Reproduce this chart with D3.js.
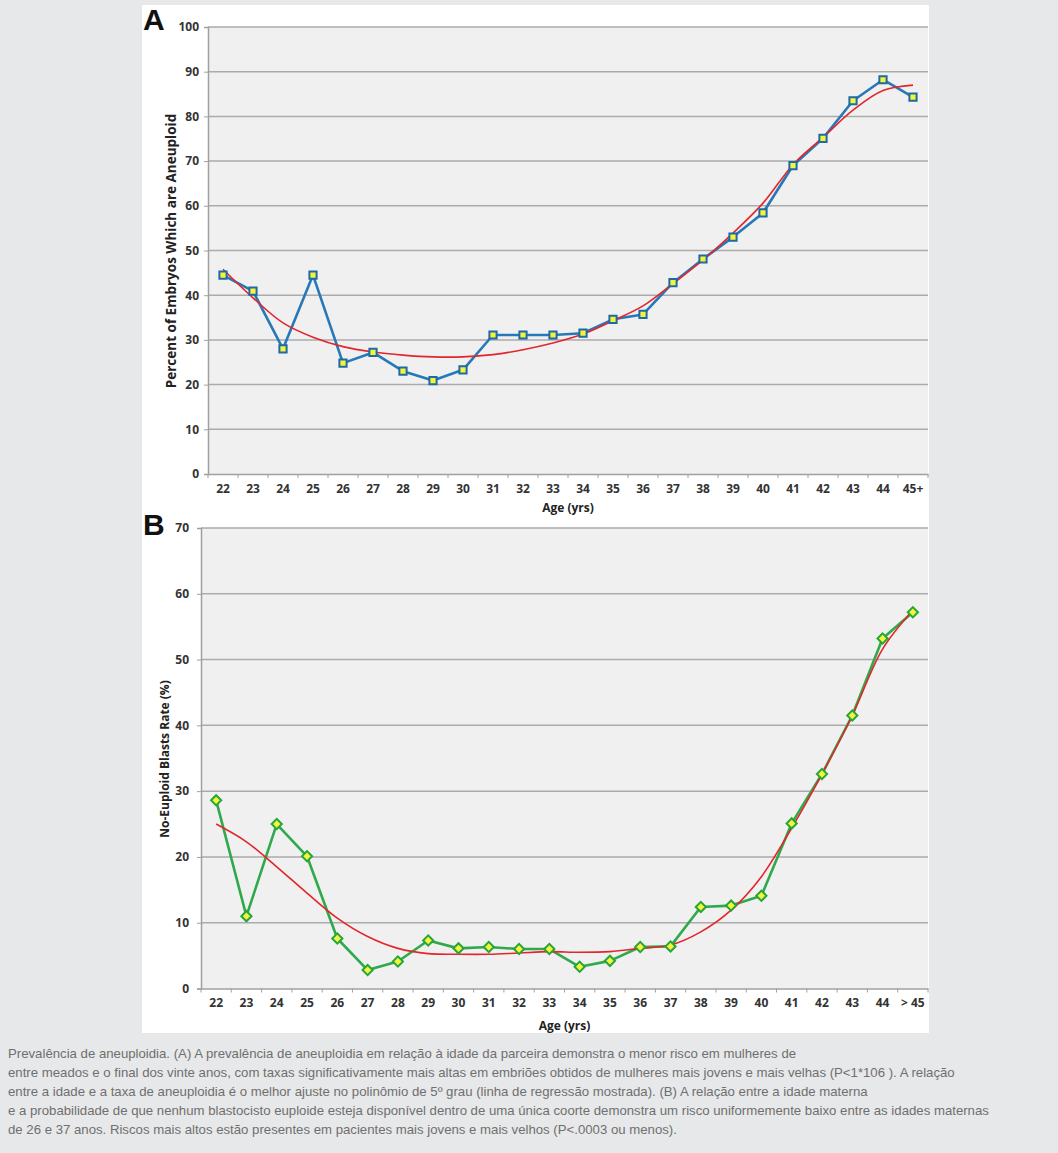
<!DOCTYPE html>
<html>
<head>
<meta charset="utf-8">
<script src="https://cdn.jsdelivr.net/npm/d3@7"></script>
<style>
  body { margin: 0; background: #e7e8e9; }
  svg { display: block; }
</style>
</head>
<body>
<div id="chart"></div>
<script>
// panel A: aneuploidy by age
const ageA = ["22","23","24","25","26","27","28","29","30","31","32","33","34","35","36","37","38","39","40","41","42","43","44","45+"];
const aneuploidPct = [44.5, 40.9, 28.0, 44.5, 24.8, 27.2, 23.0, 20.9, 23.3, 31.1, 31.1, 31.1, 31.5, 34.6, 35.7, 42.8, 48.1, 53.0, 58.4, 69.0, 75.1, 83.5, 88.2, 84.3];
const aneuploidFit = [45.8, 39.4, 33.8, 30.6, 28.5, 27.3, 26.6, 26.2, 26.2, 26.7, 27.8, 29.3, 31.3, 34.3, 37.6, 42.6, 47.9, 53.9, 60.6, 69.2, 75.3, 81.4, 85.8, 87.0];
const ticksA = [0, 10, 20, 30, 40, 50, 60, 70, 80, 90, 100];

// panel B: no euploid blastocyst rate by age
const ageB = ["22","23","24","25","26","27","28","29","30","31","32","33","34","35","36","37","38","39","40","41","42","43","44","> 45"];
const noEuploidPct = [28.6, 11.0, 25.0, 20.1, 7.6, 2.8, 4.1, 7.3, 6.1, 6.3, 6.0, 6.0, 3.3, 4.2, 6.3, 6.4, 12.4, 12.6, 14.1, 25.1, 32.6, 41.5, 53.2, 57.2];
const noEuploidFit = [25.0, 22.3, 18.5, 14.5, 10.7, 7.9, 6.1, 5.3, 5.2, 5.2, 5.4, 5.6, 5.5, 5.6, 6.1, 6.6, 8.6, 11.9, 17.0, 24.4, 32.6, 41.5, 51.6, 57.5];
const ticksB = [0, 10, 20, 30, 40, 50, 60, 70];

const caption = [
  "Prevalência de aneuploidia. (A) A prevalência de aneuploidia em relação à idade da parceira demonstra o menor risco em mulheres de",
  "entre meados e o final dos vinte anos, com taxas significativamente mais altas em embriões obtidos de mulheres mais jovens e mais velhas (P<1*106 ). A relação",
  "entre a idade e a taxa de aneuploidia é o melhor ajuste no polinômio de 5º grau (linha de regressão mostrada). (B) A relação entre a idade materna",
  "e a probabilidade de que nenhum blastocisto euploide esteja disponível dentro de uma única coorte demonstra um risco uniformemente baixo entre as idades maternas",
  "de 26 e 37 anos. Riscos mais altos estão presentes em pacientes mais jovens e mais velhos (P<.0003 ou menos)."
];

const width = 1058;
const height = 1153;
const labelFont = "'Open Sans', sans-serif";

const svg = d3.select("#chart")
  .append("svg")
    .attr("width", width)
    .attr("height", height);

// white figure panel
svg.append("rect")
  .attr("x", 142).attr("y", 5)
  .attr("width", 787).attr("height", 1028)
  .attr("fill", "#ffffff");

function drawPanel(opt) {
  const x = d3.scaleBand().domain(opt.cats).range([opt.left, opt.right]);
  const y = d3.scaleLinear().domain([0, d3.max(opt.ticks)]).range([opt.bottom, opt.top]);
  const g = svg.append("g");

  // plot area
  g.append("rect")
    .attr("x", opt.left).attr("y", opt.top)
    .attr("width", opt.right - opt.left).attr("height", opt.bottom - opt.top)
    .attr("fill", "#f0f0f0");

  // gridlines
  g.selectAll("line.grid")
    .data(opt.ticks.filter(t => t > 0))
    .join("line")
      .attr("x1", opt.left).attr("x2", opt.right)
      .attr("y1", d => y(d)).attr("y2", d => y(d))
      .attr("stroke", "#ababab")
      .attr("stroke-width", 1.5);

  // y axis
  const yAxis = g.append("g")
    .attr("transform", `translate(${opt.left},0)`)
    .call(d3.axisLeft(y).tickValues(opt.ticks).tickSize(4).tickPadding(opt.yPad));
  yAxis.select(".domain").attr("stroke", "#a0a0a0").attr("stroke-width", 1.5);
  yAxis.selectAll(".tick line").attr("stroke", "#a0a0a0");
  yAxis.selectAll("text")
    .attr("font-family", labelFont).attr("font-weight", 700)
    .attr("font-size", 12).attr("fill", "#333");

  // x axis, labels centred, ticks on category edges
  const xAxis = g.append("g")
    .attr("transform", `translate(0,${opt.bottom})`)
    .call(d3.axisBottom(x).tickSize(0).tickPadding(opt.xPad));
  xAxis.select(".domain").attr("stroke", "#a0a0a0").attr("stroke-width", 1.5);
  xAxis.selectAll("text")
    .attr("font-family", labelFont).attr("font-weight", 700)
    .attr("font-size", 12).attr("fill", "#333");
  xAxis.selectAll("line.edge")
    .data(opt.cats.concat(["end"]))
    .join("line")
      .attr("class", "edge")
      .attr("x1", (d, i) => opt.left + i * x.step())
      .attr("x2", (d, i) => opt.left + i * x.step())
      .attr("y1", 0).attr("y2", 4)
      .attr("stroke", "#a0a0a0");

  // titles
  g.append("text")
    .attr("x", (opt.left + opt.right) / 2).attr("y", opt.bottom + opt.titleGap)
    .attr("text-anchor", "middle")
    .attr("font-family", labelFont).attr("font-weight", 700)
    .attr("font-size", 12).attr("fill", "#222")
    .text("Age (yrs)");

  g.append("text")
    .attr("transform", `translate(${opt.yTitleX},${opt.yTitleY}) rotate(-90)`)
    .attr("text-anchor", "middle")
    .attr("font-family", labelFont).attr("font-weight", 700)
    .attr("font-size", opt.yTitleSize).attr("fill", "#222")
    .text(opt.yTitle);

  g.append("text")
    .attr("x", 143).attr("y", opt.letterY)
    .attr("font-family", "'Liberation Sans', Arial, sans-serif")
    .attr("font-weight", 700).attr("font-size", 30).attr("fill", "#111")
    .text(opt.letter);

  const cx = (d, i) => x(opt.cats[i]) + x.bandwidth() / 2;

  // data line
  g.append("path")
    .datum(opt.values)
    .attr("fill", "none")
    .attr("stroke", opt.lineColor)
    .attr("stroke-width", 2.6)
    .attr("stroke-linejoin", "round")
    .attr("d", d3.line().x(cx).y(d => y(d)));

  // regression curve
  g.append("path")
    .datum(opt.fit)
    .attr("fill", "none")
    .attr("stroke", "#e2262b")
    .attr("stroke-width", 1.6)
    .attr("d", d3.line().x(cx).y(d => y(d)).curve(d3.curveCatmullRom));

  // markers
  g.selectAll("path.marker")
    .data(opt.values)
    .join("path")
      .attr("class", "marker")
      .attr("d", d3.symbol(d3.symbolSquare, 52))
      .attr("transform", (d, i) => `translate(${cx(d, i)},${y(d)}) rotate(${opt.rotate})`)
      .attr("fill", "#f4f43c")
      .attr("stroke", opt.markerStroke)
      .attr("stroke-width", 2);
}

drawPanel({
  letter: "A", letterY: 30,
  cats: ageA, values: aneuploidPct, fit: aneuploidFit, ticks: ticksA,
  left: 208, right: 928, top: 27, bottom: 474,
  yPad: 5, xPad: 10, titleGap: 38,
  yTitle: "Percent of Embryos Which are Aneuploid",
  yTitleX: 176, yTitleY: 251, yTitleSize: 13.5,
  lineColor: "#2778b8", markerStroke: "#1d6aa5", rotate: 0
});

drawPanel({
  letter: "B", letterY: 535,
  cats: ageB, values: noEuploidPct, fit: noEuploidFit, ticks: ticksB,
  left: 201, right: 928, top: 528, bottom: 988.5,
  yPad: 8, xPad: 10, titleGap: 41,
  yTitle: "No-Euploid  Blasts Rate (%)",
  yTitleX: 169, yTitleY: 759, yTitleSize: 12,
  lineColor: "#2fa94b", markerStroke: "#26a63a", rotate: 45
});

// caption below the figure
svg.append("g")
  .selectAll("text")
  .data(caption)
  .join("text")
    .attr("x", 8)
    .attr("y", (d, i) => 1058 + i * 19)
    .attr("font-family", "'Liberation Sans', Helvetica, Arial, sans-serif")
    .attr("font-size", 13.2)
    .attr("fill", "#6f6f6f")
    .text(d => d);
</script>
</body>
</html>
